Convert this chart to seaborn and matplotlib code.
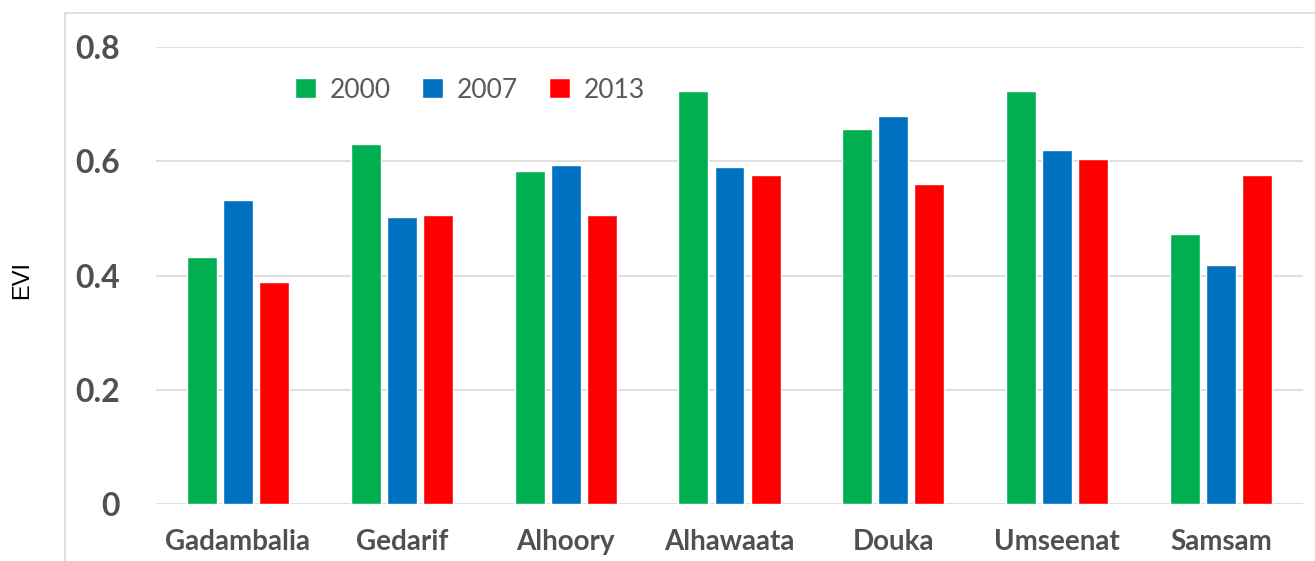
import seaborn as sns
import matplotlib.pyplot as plt
import pandas as pd
from matplotlib.lines import Line2D

sites = ['Gadambalia', 'Gedarif', 'Alhoory', 'Alhawaata', 'Douka', 'Umseenat', 'Samsam']
years = ['2000', '2007', '2013']
evi_2000 = [0.432, 0.630, 0.583, 0.723, 0.656, 0.723, 0.473]
evi_2007 = [0.532, 0.502, 0.593, 0.590, 0.679, 0.620, 0.418]
evi_2013 = [0.389, 0.506, 0.506, 0.576, 0.560, 0.604, 0.576]
colors = ['#00B050', '#0070C0', '#FF0000']

df = pd.DataFrame({'site': sites * 3,
                   'year': [y for y in years for _ in sites],
                   'evi': evi_2000 + evi_2007 + evi_2013})

sns.set_style('white')
plt.rcParams['font.family'] = ['Lato', 'DejaVu Sans']

fig = plt.figure(figsize=(13.15, 5.61), dpi=100)
ax = fig.add_axes([156 / 1315, 1 - 504 / 561, (1303 - 156) / 1315, (504 - 47) / 561])

sns.barplot(data=df, x='site', y='evi', hue='year', palette=colors,
            width=0.66, gap=0.17, saturation=1, ax=ax, legend=True)

ax.set_ylim(0, 0.8)
ax.set_xlim(-0.5, len(sites) - 0.5)
ax.set_yticks([0, 0.2, 0.4, 0.6, 0.8])
ax.set_yticklabels(['0', '0.2', '0.4', '0.6', '0.8'])
ax.yaxis.grid(True, color='#d9d9d9', linewidth=1.2)
ax.set_axisbelow(True)
for s in ax.spines.values():
    s.set_visible(False)
ax.tick_params(axis='y', length=0, pad=26, labelsize=23, labelcolor='#505050')
ax.tick_params(axis='x', length=0, pad=18, labelsize=20, labelcolor='#505050')
for lab in ax.get_xticklabels() + ax.get_yticklabels():
    lab.set_fontweight('bold')
ax.set_xlabel('')
ax.set_ylabel('')
fig.text(22 / 1315, 1 - 280 / 561, 'EVI', rotation=90, ha='center', va='center',
         fontsize=17, family='Liberation Sans', color='black')

leg = ax.legend(loc='center', bbox_to_anchor=(470 / 1315, 1 - 90 / 561),
                bbox_transform=fig.transFigure, ncol=3, frameon=False,
                fontsize=19, handlelength=0.8, handleheight=0.8,
                handletextpad=0.5, columnspacing=1.2)
for t in leg.get_texts():
    t.set_color('#595959')

# outer chart border (left and top edges visible)
fig.add_artist(Line2D([65 / 1315, 65 / 1315], [0, 1 - 13 / 561], color='#d9d9d9', linewidth=1.2))
fig.add_artist(Line2D([65 / 1315, 1], [1 - 13 / 561, 1 - 13 / 561], color='#d9d9d9', linewidth=1.2))

fig.savefig('out.png', dpi=100)
